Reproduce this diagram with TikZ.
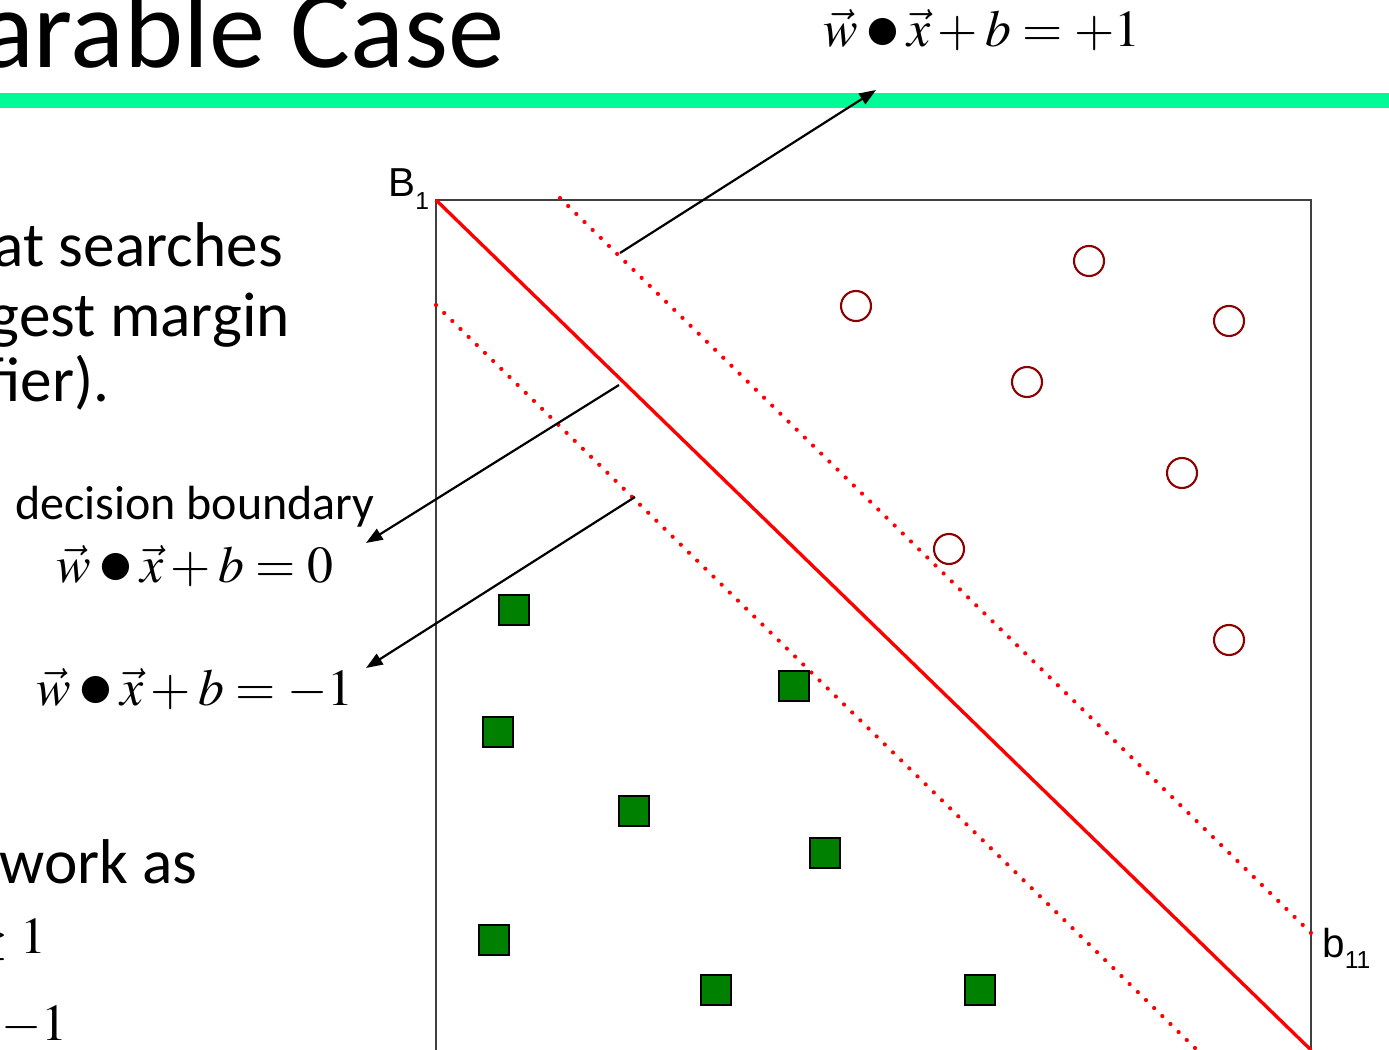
\documentclass[tikz,border=0pt]{standalone}
\usepackage{mathptmx}
\usepackage[no-math]{fontspec}
\setmainfont{Carlito}
\newfontfamily\arialfont{Liberation Sans}
\usetikzlibrary{arrows.meta}

\definecolor{barGreen}{RGB}{0,250,150}
\definecolor{posRed}{RGB}{140,0,0}
\definecolor{negGreen}{RGB}{0,128,0}

\newcommand{\dotprod}{\mathbin{\vcenter{\hbox{\scalebox{1.35}{$\bullet$}}}}}
\newcommand{\hyperplane}[1]{$\vec{w}\dotprod\vec{x}+b=#1$}

\begin{document}
\begin{tikzpicture}[
    x=0.02cm, y=-0.02cm,
    title/.style={font=\fontsize{64}{70}\selectfont, anchor=base east, inner sep=0},
    body/.style={font=\fontsize{36}{40}\selectfont, anchor=base east, inner sep=0},
    eq/.style={font=\fontsize{29.5}{34}\selectfont, anchor=base, inner sep=0},
    caption/.style={font=\fontsize{27.3}{30}\selectfont, anchor=base, inner sep=0},
    axislabel/.style={font=\arialfont\fontsize{23}{25}\selectfont, anchor=base west, inner sep=0},
    plusPt/.style={circle, draw=posRed, line width=1.2pt, minimum size=0.6cm, inner sep=0},
    minusPt/.style={rectangle, draw=black, fill=negGreen, line width=1.1pt, minimum size=0.6cm, inner sep=0},
    boundary/.style={red, line width=1.9pt},
    marginline/.style={red, line width=2.4pt, line cap=round, dash pattern=on 0pt off 6.5pt},
    arrow/.style={-{Triangle[length=9.5pt, width=7pt]}, line width=1.25pt}
]

\useasboundingbox (0,0) rectangle (1389,1050);
\clip (0,0) rectangle (1389,1050);

\node[title] (head) at (505,68) {arable Case};
\fill[barGreen] (0,93) rectangle (1389,108);

\node[body] (textA) at (283,267) {at searches};
\node[body] (textB) at (290,337) {gest margin};
\node[body] (textC) at (110,402) {fier).};
\node[body] (textD) at (198,883) {work as};
\node[eq, anchor=base east] (textE) at (47,953) {$\geq 1$};
\node[eq, anchor=base east] (textF) at (68,1040) {$-1$};

\node[eq] (eqPlus) at (982,47) {\hyperplane{+1}};
\node[caption] (decision) at (195,520) {decision boundary};
\node[eq] (eqZero) at (195,582) {\hyperplane{0}};
\node[eq] (eqMinus) at (195,705) {\hyperplane{-1}};

\draw[black!75, line width=0.6pt] (436,200) rectangle (1311,1070);

\coordinate (bTop) at (436,200);
\coordinate (bEnd) at (1311,1050);
\coordinate (upTop) at (560,198);
\coordinate (upEnd) at (1311,933);
\coordinate (loTop) at (436,305);
\coordinate (loEnd) at (1197,1050);

\draw[boundary] (bTop) -- (bEnd);
\draw[marginline] (upTop) -- (upEnd);
\draw[marginline] (loTop) -- (loEnd);

\node[axislabel] (labB) at (388,197) {B\raisebox{-7.4pt}{\fontsize{14}{14}\selectfont 1}};
\node[axislabel] (labb) at (1322,957) {b\raisebox{-6.8pt}{\fontsize{14}{14}\selectfont 11}};

\node[plusPt] (p1) at (856,306) {};
\node[plusPt] (p2) at (1089,261) {};
\node[plusPt] (p3) at (1229,321) {};
\node[plusPt] (p4) at (1027,382) {};
\node[plusPt] (p5) at (1182,473) {};
\node[plusPt] (p6) at (949,549) {};
\node[plusPt] (p7) at (1229,640) {};

\node[minusPt] (n1) at (514,610) {};
\node[minusPt] (n2) at (794,686) {};
\node[minusPt] (n3) at (498,732) {};
\node[minusPt] (n4) at (634,811) {};
\node[minusPt] (n5) at (825,853) {};
\node[minusPt] (n6) at (494,940) {};
\node[minusPt] (n7) at (716,990) {};
\node[minusPt] (n8) at (980,990) {};

\coordinate (upTail) at (620,253);
\coordinate (upTip) at (876,90);
\coordinate (midTail) at (619,385);
\coordinate (midTip) at (366,543);
\coordinate (lowTail) at (635,497);
\coordinate (lowTip) at (366,668);

\draw[arrow] (upTail) -- (upTip);
\draw[arrow] (midTail) -- (midTip);
\draw[arrow] (lowTail) -- (lowTip);

\end{tikzpicture}
\end{document}
